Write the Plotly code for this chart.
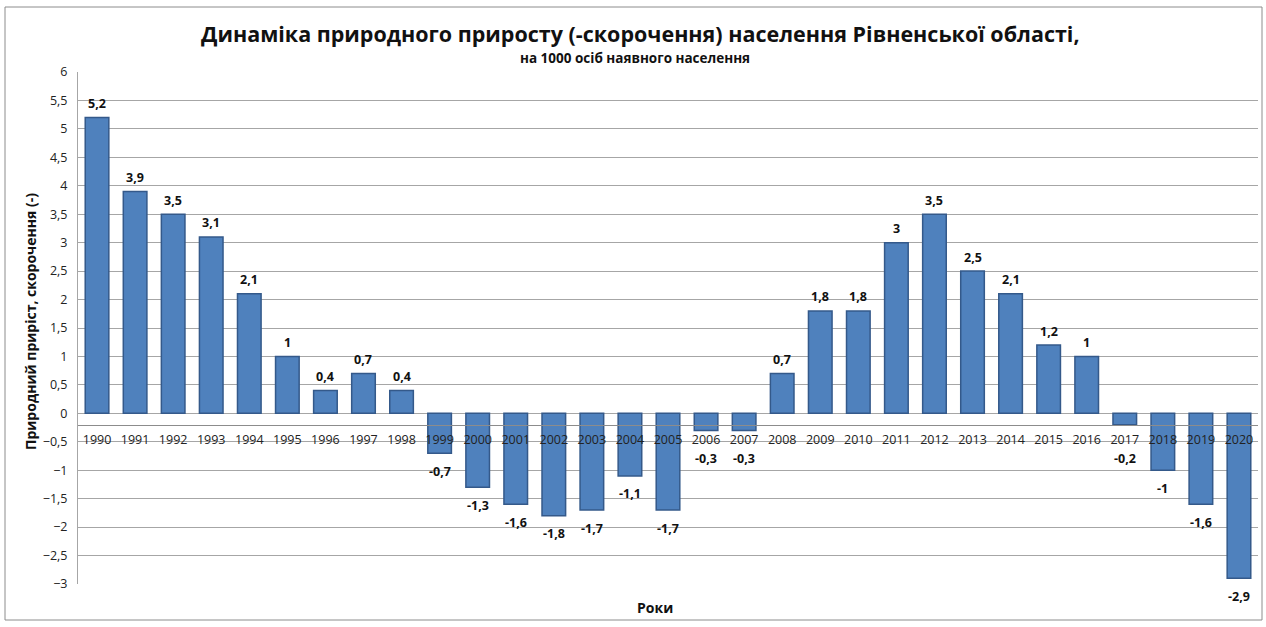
import plotly.graph_objects as go

years = [str(y) for y in range(1990, 2021)]
values = [5.2, 3.9, 3.5, 3.1, 2.1, 1.0, 0.4, 0.7, 0.4, -0.7, -1.3, -1.6, -1.8, -1.7,
          -1.1, -1.7, -0.3, -0.3, 0.7, 1.8, 1.8, 3.0, 3.5, 2.5, 2.1, 1.2, 1.0, -0.2,
          -1.0, -1.6, -2.9]
labels = [("%g" % v).replace(".", ",") for v in values]

title = "Динаміка природного приросту (-скорочення) населення Рівненської області,"
subtitle = "на 1000 осіб наявного населення"
ytitle = "Природний приріст, скорочення (-)"
xtitle = "Роки"

W, H = 1266, 627
L, R, T, B = 78, 8, 72, 43
pw, ph = W - L - R, H - T - B
YMIN, YMAX = -3, 6
unit_px = ph / (YMAX - YMIN)
def px(x):
    return (x - L) / pw
def py(y):
    return (H - B - y) / ph

FONT = "Open Sans"

fig = go.Figure()
fig.add_trace(go.Bar(
    x=years, y=values,
    marker=dict(color="#4f81bd", line=dict(color="#34598a", width=1.5)),
    width=0.62, hoverinfo="x+y",
))

fig.update_layout(
    width=W, height=H,
    margin=dict(l=L, r=R, t=T, b=B),
    paper_bgcolor="white", plot_bgcolor="white",
    separators=", ",
    showlegend=False,
    font=dict(family=FONT, color="#222222"),
)
fig.update_yaxes(
    range=[YMIN, YMAX], dtick=0.5, showgrid=True, gridcolor="#a6a6a6", gridwidth=1,
    zeroline=True, zerolinecolor="#a6a6a6", zerolinewidth=1,
    showline=True, linecolor="#a6a6a6", linewidth=1,
    tickfont=dict(family=FONT, size=12.5, color="#222222"),
    ticks="", ticklabelstandoff=7,
)
fig.update_xaxes(
    range=[-0.5, 30.5], type="category",
    anchor="free", position=2.8 / 9,
    showline=True, linecolor="#8c8c8c", linewidth=1,
    ticks="", tickangle=0, ticklabelstandoff=3,
    tickfont=dict(family=FONT, size=12.5, color="#222222"),
    showgrid=False,
)

annotations = []
for i, (v, lab) in enumerate(zip(values, labels)):
    if v >= 0:
        shift = 14
    else:
        # keep negative labels below the category labels
        shift = -max(18, 45 - abs(v) * unit_px)
    annotations.append(dict(
        text="<b>%s</b>" % lab, x=i, y=v, xref="x", yref="y", yshift=shift,
        showarrow=False, font=dict(family=FONT, size=12.5, color="#111111"),
        xanchor="center", yanchor="middle"))

annotations += [
    dict(text="<b>%s</b>" % title, x=px(640), y=py(33), xref="paper", yref="paper",
         showarrow=False, font=dict(family=FONT, size=21.5, color="#111111"),
         xanchor="center", yanchor="middle"),
    dict(text="<b>%s</b>" % subtitle, x=px(635), y=py(58), xref="paper", yref="paper",
         showarrow=False, font=dict(family=FONT, size=13.5, color="#111111"),
         xanchor="center", yanchor="middle"),
    dict(text="<b>%s</b>" % ytitle, x=px(30), y=py(322), xref="paper", yref="paper",
         showarrow=False, textangle=-90, font=dict(family=FONT, size=14, color="#111111"),
         xanchor="center", yanchor="middle"),
    dict(text="<b>%s</b>" % xtitle, x=px(655), y=py(607), xref="paper", yref="paper",
         showarrow=False, font=dict(family=FONT, size=14, color="#111111"),
         xanchor="center", yanchor="middle"),
]
fig.update_layout(annotations=annotations)
fig.add_shape(type="rect", xref="paper", yref="paper",
              x0=px(5), x1=px(1262), y0=py(620), y1=py(7),
              line=dict(color="#8c8c8c", width=1), layer="below")

fig.write_html("out.html", config={"displayModeBar": False},
               post_script="document.body.style.margin='0';")
